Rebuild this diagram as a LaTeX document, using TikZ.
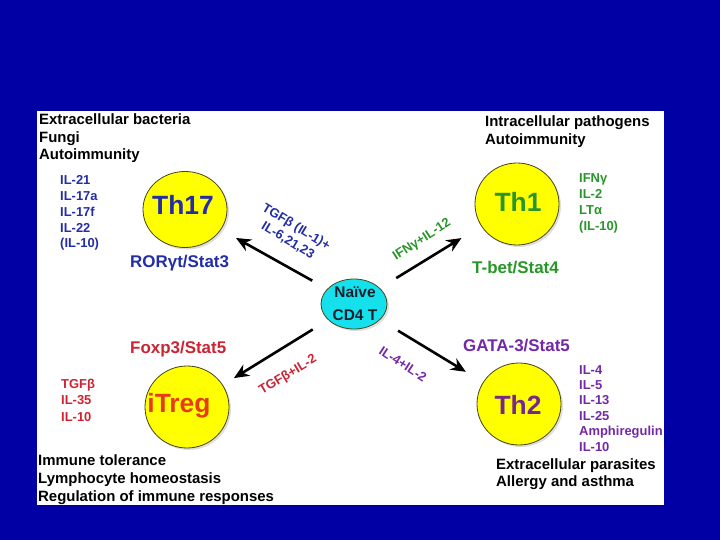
\documentclass[tikz,border=0pt]{standalone}
\usepackage{fontspec}
\setmainfont{Liberation Sans}
\usetikzlibrary{arrows.meta,shapes.geometric,shadows}
\definecolor{bgblue}{RGB}{0,0,165}
\definecolor{cblue}{RGB}{35,45,165}
\definecolor{cgreen}{RGB}{40,150,40}
\definecolor{cred}{RGB}{205,35,50}
\definecolor{corange}{RGB}{230,60,20}
\definecolor{cpurple}{RGB}{115,40,165}
\definecolor{cpurpled}{RGB}{120,40,140}
\definecolor{cyel}{RGB}{255,255,0}
\definecolor{ccyan}{RGB}{20,225,235}
\definecolor{cedge}{RGB}{70,70,30}
\definecolor{cdark}{RGB}{20,30,45}
\begin{document}
\begin{tikzpicture}[x=1bp,y=-1bp,
  txt/.style={inner sep=0pt, anchor=base west, font=\bfseries\fontsize{15}{18}\selectfont},
  small/.style={inner sep=0pt, anchor=base west, font=\bfseries\fontsize{13}{15}\selectfont},
  tf/.style={inner sep=0pt, anchor=base west, font=\bfseries\fontsize{17}{20}\selectfont},
  big/.style={inner sep=0pt, anchor=base, font=\bfseries\fontsize{26.5}{30}\selectfont},
  cell/.style={ellipse, draw=cedge, line width=0.8bp, fill=cyel, inner sep=0pt,
    minimum width=84bp, minimum height=82bp,
    drop shadow={opacity=0.25, shadow xshift=2bp, shadow yshift=-2bp}},
  arr/.style={line width=2.6bp, -{Stealth[length=15bp,width=13bp]}},
  lab/.style={inner sep=0pt, align=center, font=\bfseries\fontsize{13}{16}\selectfont}
]
\useasboundingbox (0,0) rectangle (720,540);
\fill[bgblue] (0,0) rectangle (720,540);
\fill[white] (37,111) rectangle (664,505);

% cells
\node[cell, minimum height=76bp] (th17) at (185,209.5) {};
\node[cell] (th1) at (517,204) {};
\node[cell] (itreg) at (187,407) {};
\node[cell] (th2) at (519,404) {};
\node[ellipse, draw=cedge, line width=0.8bp, fill=ccyan, inner sep=0pt,
  minimum width=66bp, minimum height=50bp,
  drop shadow={opacity=0.25, shadow xshift=2bp, shadow yshift=-2bp}] (naive) at (354,304) {};

\node[big,text=cblue] (th17t) at (183,215) {Th17};
\node[big,text=cgreen] (th1t) at (518,212) {Th1};
\node[big,text=corange] (itregt) at (179,412) {iTreg};
\node[big,text=cpurpled] (th2t) at (518,414) {Th2};
\node[inner sep=0pt, anchor=base, text=cdark, font=\bfseries\fontsize{15.5}{18}\selectfont] (nv1) at (355,297) {Naïve};
\node[inner sep=0pt, anchor=base, text=cdark, font=\bfseries\fontsize{15.5}{18}\selectfont] (nv2) at (355,320) {CD4 T};

% arrows
\draw[arr, shorten <=17bp, shorten >=17bp] (naive) -- (th17);
\draw[arr, shorten <=19bp, shorten >=23bp] (naive) -- (th1);
\draw[arr, shorten <=18bp, shorten >=13bp] (naive) -- (itreg);
\draw[arr, shorten <=21bp, shorten >=20bp] (naive) -- (th2);

% arrow labels
\node[lab, text=cblue, rotate=-31] (l17) at (292,234) {TGFβ (IL-1)+\\IL-6,21,23};
\node[lab, text=cgreen, rotate=33] (l1) at (422,240) {IFNγ+IL-12};
\node[lab, text=cred, rotate=31] (lreg) at (288,375) {TGFβ+IL-2};
\node[lab, text=cpurple, rotate=-33] (l2) at (403,364) {IL-4+IL-2};

% transcription factors
\node[tf,text=cblue] (rorgt) at (130,268) {RORγt/Stat3};
\node[tf,text=cgreen] (tbet) at (472,274) {T-bet/Stat4};
\node[tf,text=cred] (foxp3) at (130,353) {Foxp3/Stat5};
\node[tf,text=cpurple] (gata3) at (463,351) {GATA-3/Stat5};

% black text blocks
\foreach \t [count=\i] in {Extracellular bacteria, Fungi, Autoimmunity}
  \node[txt] (tl\i) at (39,{125+17.5*(\i-1)}) {\t};
\foreach \t [count=\i] in {Intracellular pathogens, Autoimmunity}
  \node[txt] (tr\i) at (485,{127+18*(\i-1)}) {\t};
\foreach \t [count=\i] in {Immune tolerance, Lymphocyte homeostasis, Regulation of immune responses}
  \node[txt] (bl\i) at (38,{465+18*(\i-1)}) {\t};
\foreach \t [count=\i] in {Extracellular parasites, Allergy and asthma}
  \node[txt] (br\i) at (496,{469+17.5*(\i-1)}) {\t};

% cytokines
\foreach \t [count=\i] in {IL-21, IL-17a, IL-17f, IL-22, (IL-10)}
  \node[small, text=cblue] (a\i) at (60,{185+15.7*(\i-1)}) {\t};
\foreach \t [count=\i] in {IFNγ, IL-2, LTα, (IL-10)}
  \node[small, text=cgreen] (b\i) at (579,{183+16*(\i-1)}) {\t};
\foreach \t [count=\i] in {TGFβ, IL-35, IL-10}
  \node[small, text=cred] (c\i) at (61,{388+16.5*(\i-1)}) {\t};
\begin{scope}
\clip (37,111) rectangle (664,505);
\foreach \t [count=\i] in {IL-4, IL-5, IL-13, IL-25, Amphiregulin, IL-10}
  \node[small, text=cpurple] (d\i) at (579,{374+15.4*(\i-1)}) {\t};
\end{scope}
\end{tikzpicture}
\end{document}
